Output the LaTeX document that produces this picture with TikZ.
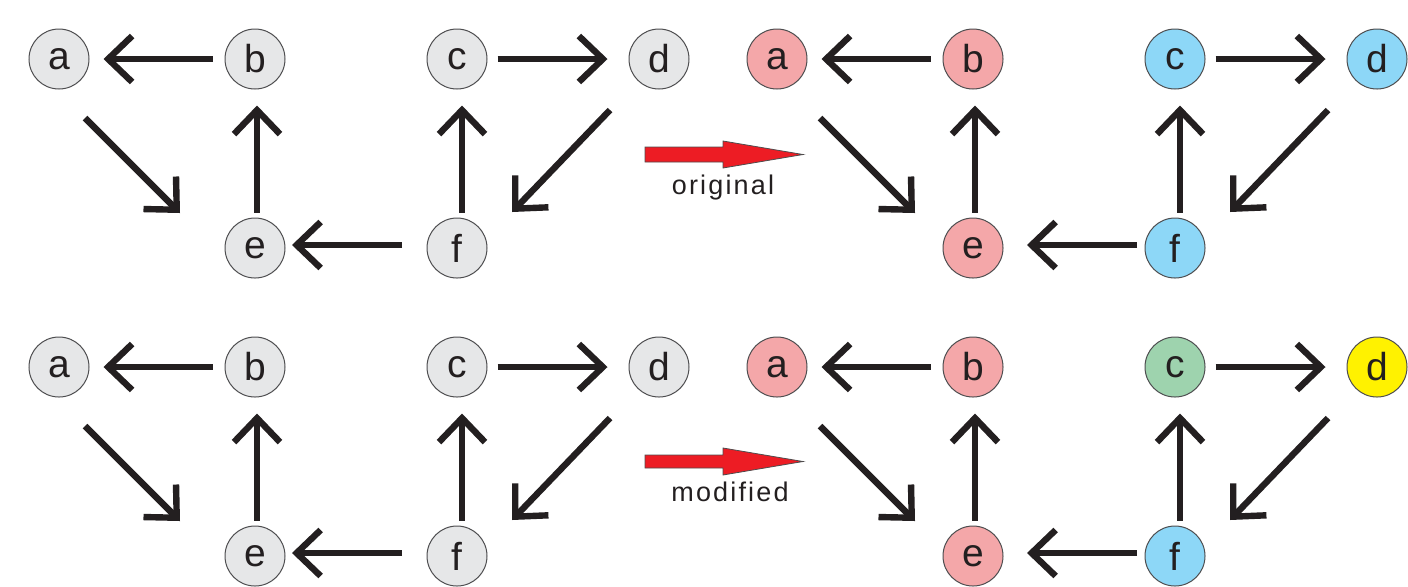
\documentclass[tikz,border=0pt]{standalone}
\usepackage{fontspec}
\setmainfont{Liberation Sans}
\newfontfamily\captionfont[LetterSpace=8]{Liberation Sans}
\usetikzlibrary{arrows.meta,calc}

\definecolor{ink}{HTML}{231F20}
\definecolor{rim}{HTML}{4D4D4F}
\definecolor{greyfill}{HTML}{E6E7E8}
\definecolor{pinkfill}{HTML}{F4A7A9}
\definecolor{bluefill}{HTML}{8DD7F7}
\definecolor{greenfill}{HTML}{9ED3AE}
\definecolor{yellowfill}{HTML}{FFF200}
\definecolor{redfill}{HTML}{ED1C24}

\tikzset{
  vertex/.style={circle, minimum size=30pt, inner sep=0pt, draw=rim,
    line width=0.5pt, text=ink, font=\fontsize{19.5}{19.5}\selectfont},
  edge/.style={draw=ink, line width=3.2pt,
    -{Straight Barb[length=12pt, width=23pt]}},
  caption/.style={text=ink, inner sep=0pt, font=\captionfont\fontsize{13.5}{13.5}\selectfont},
  bigarrow/.style={fill=redfill, draw=ink!80, line width=0.4pt, line join=miter}
}

% One graph a..f; #1,#2 origin, #3 name prefix, #4 shift of the edges into e,
% #5 fill of a, b, e, #6 fill of c, #7 fill of d, #8 fill of f
\newcommand{\graphpanel}[8]{%
  \begin{scope}[shift={(#1,#2)}]
    \node[vertex, fill=#5] (#3a) at (59,59)   {a};
    \node[vertex, fill=#5] (#3b) at (255,59)  {b};
    \node[vertex, fill=#6] (#3c) at (457,59)  {c};
    \node[vertex, fill=#7] (#3d) at (659,59)  {d};
    \node[vertex, fill=#5] (#3e) at (255,248) {e};
    \node[vertex, fill=#8] (#3f) at (457,248) {f};
  \end{scope}
  \draw[edge, shorten <=6pt, shorten >=7pt] (#3b.west) -- (#3a.east);
  \draw[edge] ($(#3a)+(26+#4,59)$) -- ($(#3e)+(-75+#4,-35)$);
  \draw[edge, shorten <=2.5pt, shorten >=8pt]
    ([xshift=1pt]#3e.north) -- ([xshift=1pt]#3b.south);
  \draw[edge, shorten <=5pt, shorten >=10.5pt] (#3c.east) -- (#3d.west);
  \draw[edge] ($(#3d)+(-49,51)$) -- ($(#3f)+(55,-36)$);
  \draw[edge, shorten <=2.5pt, shorten >=8pt]
    ([xshift=2.5pt]#3f.north) -- ([xshift=2.5pt]#3c.south);
  \draw[edge] ($(#3f)+(-55+#4,-3)$) -- ($(#3e)+(37+#4,-3)$);
}

\begin{document}
\begin{tikzpicture}[x=0.5pt, y=-0.5pt]
  \useasboundingbox (0,0) rectangle (1408,586);

  % upper row
  \graphpanel{0}{0}{ul}{0}{greyfill}{greyfill}{greyfill}{greyfill}
  \graphpanel{718}{0}{ur}{17}{pinkfill}{bluefill}{bluefill}{bluefill}
  % lower row
  \graphpanel{0}{308}{ll}{0}{greyfill}{greyfill}{greyfill}{greyfill}
  \graphpanel{718}{308}{lr}{17}{pinkfill}{greenfill}{yellowfill}{bluefill}

  % transition arrows with their captions
  \draw[bigarrow] (645,147) -- (723,147) -- (723,141) -- (803,154.5)
    -- (723,168) -- (723,162) -- (645,162) -- cycle;
  \node[caption] (orig) at (723,188) {original};

  \draw[bigarrow] (645,455) -- (723,455) -- (723,448) -- (803,461.5)
    -- (723,475) -- (723,468) -- (645,468) -- cycle;
  \node[caption] (modi) at (730,492) {modified};
\end{tikzpicture}
\end{document}
